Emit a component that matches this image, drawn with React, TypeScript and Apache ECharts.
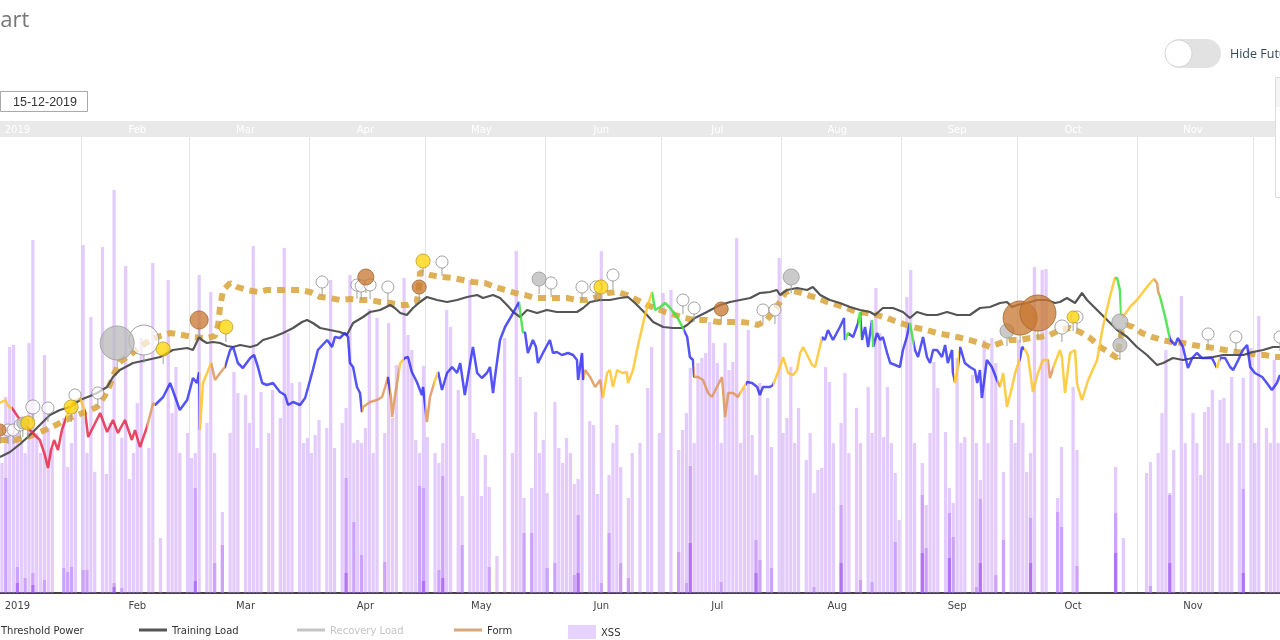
import React, { useEffect, useRef } from 'react';
import * as echarts from 'echarts';

// day-of-year index (Jan 1 = 0) of first and last visible day
const FIRST_DAY = 10;
const LAST_DAY = 340;
const monthNames = ['2019', 'Feb', 'Mar', 'Apr', 'May', 'Jun', 'Jul', 'Aug', 'Sep', 'Oct', 'Nov', 'Dec'];

// XSS total per day, days 10..340
const xssTotal = [
  130, 196, 246, 248, 160, 150, 140, 250, 353, 160,
  140, 238, 165, 145, 0, 0, 175, 126, 150, 185,
  0, 348, 140, 276, 121, 0, 346, 119, 170, 403,
  0, 155, 327, 114, 140, 190, 255, 0, 145, 330,
  0, 55, 0, 313, 180, 226, 140, 0, 160, 135,
  140, 318, 0, 170, 301, 140, 0, 81, 0, 160,
  221, 200, 0, 198, 170, 347, 145, 201, 0, 160,
  203, 0, 175, 345, 260, 210, 0, 211, 150, 155,
  140, 158, 173, 0, 165, 313, 145, 0, 170, 185,
  318, 150, 153, 150, 165, 284, 140, 275, 0, 160,
  270, 175, 228, 0, 315, 258, 243, 153, 140, 227,
  156, 0, 140, 130, 150, 283, 266, 0, 203, 97,
  0, 313, 160, 154, 97, 138, 106, 0, 37, 0,
  255, 0, 140, 342, 216, 95, 0, 105, 181, 140,
  153, 100, 0, 191, 145, 130, 155, 140, 109, 114,
  238, 0, 172, 168, 99, 342, 0, 118, 150, 168,
  126, 0, 95, 140, 0, 150, 0, 205, 246, 0,
  160, 300, 0, 303, 0, 143, 163, 180, 225, 150,
  230, 235, 240, 271, 250, 230, 150, 250, 223, 231,
  355, 150, 205, 263, 158, 118, 210, 0, 195, 146,
  0, 335, 160, 175, 226, 150, 185, 0, 133, 160,
  100, 123, 125, 226, 211, 150, 0, 170, 220, 140,
  0, 185, 150, 0, 206, 160, 305, 260, 156, 206,
  150, 120, 73, 0, 296, 323, 150, 0, 130, 88,
  160, 231, 205, 0, 161, 105, 90, 235, 150, 156,
  0, 218, 150, 113, 253, 150, 255, 230, 0, 121,
  0, 173, 150, 253, 170, 121, 140, 326, 0, 323,
  324, 0, 0, 95, 146, 0, 0, 206, 143, 0,
  0, 0, 0, 0, 0, 0, 0, 0, 126, 0,
  55, 0, 0, 0, 0, 0, 120, 131, 0, 140,
  180, 243, 100, 143, 0, 297, 150, 0, 180, 150,
  118, 181, 186, 203, 0, 193, 195, 150, 216, 0,
  150, 215, 0, 245, 150, 277, 0, 165, 150, 233,
  150,
];

// [day, XSS] high-intensity part
const xssHigh = [
  [11, 115], [14, 26], [16, 15], [18, 20], [21, 13], [26, 25], [27, 21], [28, 26], [31, 23], [32, 23],
  [39, 10], [41, 5], [60, 105], [65, 30], [67, 48], [99, 115], [101, 71], [103, 38], [109, 31], [118, 107],
  [119, 105], [123, 23], [124, 117], [129, 48], [136, 26], [145, 60], [147, 60], [151, 25], [153, 30], [158, 18],
  [159, 78], [165, 10], [167, 60], [170, 30], [172, 15], [185, 41], [187, 10], [188, 127], [196, 11], [205, 53],
  [206, 33], [209, 25], [220, 6], [227, 88], [232, 13], [235, 11], [241, 51], [248, 98], [249, 45], [255, 80],
  [256, 56], [262, 6], [263, 94], [267, 18], [269, 53], [276, 75], [283, 81], [284, 66], [288, 27], [298, 80],
  [307, 7], [312, 98], [331, 104],
];

// [day, XSS] peak part
const xssPeak = [
  [14, 10], [18, 8], [39, 6], [60, 12], [99, 20], [119, 12], [124, 15], [159, 20], [188, 50], [205, 20],
  [227, 30], [248, 40], [255, 35], [263, 30], [276, 30], [298, 40], [312, 30], [331, 20],
];

// [day, value]
const trainingLoad = [
  [9.5, 136], [12.1, 141], [14.7, 149], [16.7, 156], [18.0, 161], [19.8, 168], [22.4, 178], [25.0, 183], [27.6, 186], [30.2, 193],
  [32.8, 197], [34.6, 200], [37.2, 206], [38.7, 216], [40.5, 223], [43.9, 230], [47.5, 233], [50.9, 236], [54.2, 243], [57.9, 245],
  [59.4, 243], [61.0, 256], [61.7, 253], [63.0, 250], [64.6, 251], [66.4, 250], [68.2, 247], [69.8, 246], [71.6, 248], [74.2, 246],
  [76.0, 248], [77.5, 253], [80.1, 256], [82.7, 260], [85.3, 265], [87.6, 271], [88.9, 273], [90.4, 270], [92.3, 265], [94.8, 263],
  [97.4, 261], [99.2, 258], [100.8, 270], [103.4, 276], [105.2, 281], [107.8, 283], [110.4, 288], [111.6, 285], [113.0, 280], [114.7, 278],
  [116.3, 285], [118.1, 291], [119.9, 296], [122.5, 293], [125.1, 291], [127.7, 293], [130.3, 296], [132.9, 298], [134.4, 295], [137.0, 298],
  [138.8, 295], [140.6, 288], [142.2, 281], [144.0, 276], [145.8, 283], [148.4, 280], [150.9, 283], [153.5, 281], [156.1, 281], [158.7, 281],
  [160.3, 285], [162.1, 291], [164.7, 293], [167.2, 293], [169.8, 295], [171.9, 296], [173.7, 290], [175.0, 285], [176.8, 278], [178.4, 271],
  [181.0, 266], [183.5, 265], [185.9, 265], [187.2, 268], [189.2, 275], [192.3, 281], [195.7, 288], [198.3, 291], [200.9, 293], [203.5, 295],
  [206.0, 300], [208.6, 301], [210.4, 303], [211.2, 298], [213.0, 303], [215.6, 305], [218.2, 303], [219.7, 306], [221.6, 298], [224.1, 293],
  [226.7, 290], [229.3, 286], [231.9, 283], [234.5, 281], [235.8, 278], [237.8, 285], [240.4, 285], [243.0, 281], [244.8, 275], [246.6, 281],
  [249.2, 278], [251.8, 278], [254.4, 281], [257.0, 278], [260.3, 278], [262.9, 285], [265.5, 286], [268.1, 290], [269.9, 291], [271.2, 286],
  [272.5, 288], [275.1, 290], [277.7, 293], [280.3, 293], [282.3, 290], [283.6, 291], [285.4, 295], [287.5, 290], [289.3, 300], [290.6, 293],
  [293.2, 283], [295.8, 273], [298.4, 263], [301.0, 256], [303.5, 246], [306.1, 238], [308.7, 228], [310.3, 230], [312.8, 235], [315.4, 233],
  [318.0, 235], [320.6, 235], [323.2, 236], [325.8, 238], [328.4, 238], [331.0, 238], [333.5, 241], [336.1, 243], [338.7, 246], [340.5, 246],
];

const thresholdPower = [
  [9.5, 153], [13.4, 153], [17.3, 157], [22.4, 165], [27.6, 175], [31.5, 181], [34.6, 186], [36.7, 198], [37.9, 208], [39.2, 221],
  [40.5, 231], [43.1, 238], [45.7, 246], [48.3, 253], [50.9, 257], [53.5, 260], [56.6, 258], [59.4, 256], [63.0, 255], [65.1, 257],
  [65.9, 268], [66.4, 286], [67.2, 303], [69.0, 310], [70.8, 306], [73.4, 303], [76.2, 301], [78.5, 303], [81.9, 303], [84.5, 303],
  [87.1, 303], [89.7, 301], [92.3, 296], [94.8, 295], [97.4, 293], [100.0, 294], [102.6, 293], [105.2, 293], [107.8, 291], [110.4, 290],
  [113.0, 288], [115.0, 288], [117.3, 291], [117.9, 308], [118.1, 321], [120.7, 318], [123.8, 316], [126.6, 315], [129.2, 313], [131.8, 311],
  [134.9, 310], [137.5, 306], [140.1, 303], [142.7, 300], [145.3, 298], [147.8, 295], [151.0, 295], [153.5, 295], [156.1, 295], [158.7, 293],
  [161.3, 293], [163.9, 296], [166.5, 300], [169.1, 301], [171.6, 298], [174.2, 293], [176.8, 288], [178.9, 285], [181.5, 281], [184.1, 278],
  [186.6, 275], [189.2, 273], [192.3, 273], [195.2, 271], [197.8, 271], [200.9, 271], [203.5, 270], [205.5, 268], [207.8, 273], [209.4, 281],
  [211.2, 291], [212.5, 300], [213.8, 303], [215.9, 301], [218.2, 298], [220.8, 295], [223.4, 291], [226.0, 288], [228.5, 285], [231.1, 281],
  [233.7, 280], [236.3, 278], [238.9, 275], [241.5, 271], [244.0, 268], [246.6, 265], [249.2, 263], [251.8, 260], [254.4, 258], [257.0, 256],
  [260.3, 253], [262.9, 250], [265.5, 246], [268.1, 250], [270.7, 253], [273.3, 253], [275.9, 255], [278.4, 256], [281.0, 258], [283.6, 263],
  [286.2, 265], [288.8, 261], [291.4, 255], [294.0, 246], [296.5, 240], [298.4, 235], [299.6, 263], [301.0, 268], [302.5, 266], [304.8, 260],
  [307.4, 256], [310.0, 253], [312.6, 251], [315.4, 250], [318.0, 248], [321.1, 246], [323.7, 245], [326.3, 243], [329.4, 241], [332.0, 240],
  [334.6, 238], [336.6, 238], [339.2, 236], [340.5, 236],
];

const form = [
  [9.5, 190], [10.8, 193], [11.8, 186], [12.6, 185], [14.7, 173], [16.7, 165], [18.5, 158], [19.8, 153], [21.1, 138], [21.9, 125],
  [22.7, 143], [23.5, 153], [24.5, 143], [25.5, 163], [26.6, 175], [27.6, 185], [28.9, 193], [30.2, 195], [31.5, 181], [32.3, 156],
  [35.4, 180], [37.2, 161], [38.7, 173], [40.0, 160], [41.8, 173], [43.6, 153], [44.4, 163], [45.7, 146], [47.5, 166], [49.1, 190],
  [49.6, 188], [51.7, 196], [53.5, 210], [54.8, 196], [56.0, 183], [57.9, 193], [59.4, 215], [60.4, 210], [61.0, 221], [61.2, 163],
  [62.0, 210], [64.1, 230], [65.1, 213], [66.4, 220], [67.7, 226], [69.0, 243], [69.8, 246], [71.0, 230], [72.3, 225], [74.2, 235],
  [75.2, 238], [76.2, 226], [77.3, 210], [78.5, 208], [80.1, 210], [81.9, 201], [83.2, 198], [84.0, 188], [85.3, 191], [87.1, 188],
  [88.4, 195], [89.2, 206], [90.4, 223], [91.7, 243], [94.1, 253], [95.4, 246], [96.1, 256], [97.4, 255], [98.7, 260], [99.5, 256],
  [100.0, 230], [100.8, 226], [101.8, 206], [102.6, 200], [103.1, 181], [103.4, 186], [105.2, 191], [107.0, 193], [108.3, 196], [109.1, 206],
  [109.8, 216], [110.6, 196], [110.9, 176], [111.6, 196], [113.0, 230], [114.2, 235], [115.0, 236], [116.0, 221], [117.3, 211], [118.1, 203],
  [118.6, 198], [118.9, 206], [119.9, 171], [120.7, 196], [122.0, 213], [122.8, 221], [123.8, 203], [125.1, 220], [126.4, 226], [127.7, 220],
  [128.5, 230], [129.7, 198], [131.0, 228], [131.8, 246], [132.9, 220], [134.1, 215], [135.4, 220], [136.2, 226], [137.0, 200], [137.5, 216],
  [138.8, 253], [140.1, 266], [141.9, 278], [143.7, 291], [144.7, 261], [145.3, 260], [146.0, 240], [147.3, 253], [148.1, 246], [148.6, 230],
  [149.9, 240], [151.7, 253], [152.5, 240], [153.5, 241], [154.8, 238], [156.4, 240], [157.7, 238], [158.7, 233], [159.0, 213], [160.0, 240],
  [160.3, 213], [160.8, 223], [162.1, 216], [163.4, 206], [164.7, 213], [165.4, 195], [166.5, 220], [167.2, 223], [168.0, 206], [169.1, 223],
  [170.4, 220], [171.6, 221], [171.9, 210], [173.2, 223], [174.5, 248], [176.3, 278], [178.1, 301], [178.9, 283], [180.2, 286], [181.5, 290],
  [182.8, 285], [184.6, 276], [186.1, 265], [187.2, 256], [187.9, 236], [188.7, 233], [189.0, 216], [190.0, 216], [191.3, 213], [192.6, 200],
  [193.6, 196], [194.9, 206], [196.2, 216], [197.0, 176], [197.8, 200], [199.1, 200], [200.3, 196], [201.4, 203], [202.7, 211], [204.0, 210],
  [205.3, 206], [206.0, 198], [206.8, 206], [208.6, 206], [209.4, 208], [211.2, 226], [212.0, 236], [213.3, 220], [214.6, 218], [215.6, 223],
  [216.4, 240], [217.2, 246], [218.5, 236], [219.5, 228], [220.3, 226], [222.1, 256], [222.8, 253], [223.6, 263], [224.9, 253], [226.7, 266],
  [227.8, 275], [228.0, 253], [228.8, 260], [230.1, 256], [231.4, 270], [231.9, 281], [232.4, 253], [233.2, 266], [234.0, 246], [235.0, 273],
  [235.3, 246], [236.3, 260], [237.1, 253], [237.8, 256], [238.9, 240], [239.7, 230], [241.0, 228], [242.2, 226], [243.0, 243], [244.0, 256],
  [244.8, 270], [245.6, 253], [246.1, 243], [246.9, 236], [248.2, 256], [249.2, 236], [250.0, 230], [250.8, 243], [251.8, 243], [253.1, 236],
  [253.9, 248], [254.6, 230], [255.7, 243], [255.9, 221], [256.5, 210], [257.2, 226], [257.8, 246], [259.0, 230], [260.3, 226], [261.6, 223],
  [262.2, 210], [262.9, 223], [263.4, 195], [264.7, 233], [266.0, 226], [267.3, 213], [268.1, 206], [268.9, 220], [269.9, 186], [271.2, 206],
  [272.0, 220], [273.3, 235], [273.8, 246], [274.6, 243], [275.3, 238], [276.6, 201], [277.9, 220], [279.2, 233], [280.5, 233], [281.0, 215],
  [282.3, 230], [283.6, 243], [284.1, 236], [284.9, 200], [286.2, 240], [287.5, 243], [288.0, 210], [288.3, 205], [289.3, 193], [290.9, 213],
  [293.2, 233], [294.7, 266], [296.5, 296], [297.8, 315], [298.4, 315], [299.1, 303], [299.4, 280], [299.9, 276], [301.7, 286], [303.5, 293],
  [305.1, 301], [306.9, 310], [307.9, 314], [308.7, 310], [309.0, 301], [309.5, 296], [310.8, 276], [312.1, 253], [313.4, 248], [314.1, 255],
  [315.4, 246], [316.7, 225], [317.8, 235], [319.0, 240], [320.3, 235], [321.6, 235], [322.9, 235], [324.2, 225], [325.0, 235], [326.3, 235],
  [327.6, 226], [328.4, 223], [329.7, 233], [330.9, 243], [332.0, 248], [332.8, 226], [334.0, 220], [335.9, 216], [337.1, 210], [338.4, 203],
  [339.7, 210], [340.5, 218],
];

// [fromDay, toDay, state]
const formSegments = [
  [9.5, 12.6, 'fresh'], [12.6, 26.6, 'veryTired'], [26.6, 31.5, 'fresh'], [31.5, 47.5, 'veryTired'], [47.5, 49.6, 'tired'],
  [49.6, 61.0, 'optimal'], [61.0, 64.1, 'fresh'], [64.1, 67.7, 'tired'], [67.7, 103.1, 'optimal'], [103.1, 109.6, 'tired'],
  [109.6, 110.4, 'optimal'], [110.4, 112.8, 'tired'], [112.8, 114.0, 'fresh'], [114.0, 119.5, 'optimal'], [119.5, 121.8, 'tired'],
  [121.8, 122.8, 'fresh'], [122.8, 143.7, 'optimal'], [143.7, 145.0, 'peak'], [145.0, 160.5, 'optimal'], [160.5, 165.2, 'tired'],
  [165.2, 178.1, 'fresh'], [178.1, 186.4, 'peak'], [186.4, 189.0, 'optimal'], [189.0, 200.9, 'tired'], [200.9, 202.4, 'fresh'],
  [202.4, 209.4, 'optimal'], [209.4, 222.0, 'fresh'], [222.0, 227.9, 'optimal'], [227.9, 229.0, 'peak'], [229.0, 231.4, 'optimal'],
  [231.4, 232.2, 'peak'], [232.2, 234.8, 'optimal'], [234.8, 235.5, 'peak'], [235.5, 244.6, 'optimal'], [244.6, 245.8, 'peak'],
  [245.8, 256.3, 'optimal'], [256.3, 257.6, 'fresh'], [257.6, 267.3, 'optimal'], [267.3, 268.1, 'tired'], [268.1, 273.3, 'fresh'],
  [273.3, 274.3, 'optimal'], [274.3, 280.5, 'fresh'], [280.5, 281.8, 'tired'], [281.8, 297.8, 'fresh'], [297.8, 299.4, 'peak'],
  [299.4, 307.9, 'fresh'], [307.9, 309.3, 'tired'], [309.3, 312.1, 'peak'], [312.1, 324.0, 'optimal'], [324.0, 325.0, 'fresh'],
  [325.0, 340.6, 'optimal'],
];
const formColors = {
  fresh: 'rgba(255,196,40,0.85)',
  tired: 'rgba(222,150,90,0.85)',
  veryTired: 'rgba(232,40,70,0.85)',
  optimal: 'rgba(40,40,245,0.8)',
  peak: 'rgba(60,225,60,0.85)',
};

// [day, value, size, kind]
const activities = [
  [9.5, 163, 12, 'brown'], [11.6, 163, 12, 'white'], [12.9, 163, 12, 'white'], [14.7, 168, 12, 'white'], [15.4, 170, 12, 'gray'],
  [16.7, 170, 14, 'yellow'], [18.0, 186, 14, 'white'], [21.9, 185, 12, 'white'], [27.9, 186, 14, 'yellow'], [28.9, 198, 12, 'white'],
  [34.8, 200, 12, 'white'], [39.8, 250, 34, 'gray'], [46.7, 253, 30, 'white'], [51.7, 244, 14, 'yellow'], [61.0, 273, 18, 'brown'],
  [67.9, 266, 14, 'yellow'], [92.8, 311, 12, 'white'], [101.8, 308, 12, 'white'], [102.9, 307, 12, 'white'], [104.1, 316, 16, 'brown'],
  [105.2, 308, 12, 'white'], [109.8, 306, 12, 'white'], [117.9, 306, 14, 'brown'], [118.9, 332, 14, 'yellow'], [123.8, 331, 12, 'white'],
  [148.9, 314, 14, 'gray'], [152.0, 310, 12, 'white'], [160.0, 306, 12, 'white'], [163.6, 306, 12, 'white'], [164.9, 306, 14, 'yellow'],
  [168.0, 318, 12, 'white'], [186.1, 293, 12, 'white'], [189.0, 285, 12, 'white'], [196.0, 284, 14, 'brown'], [206.8, 283, 12, 'white'],
  [209.9, 283, 12, 'white'], [214.1, 316, 16, 'gray'], [269.9, 262, 14, 'gray'], [273.3, 275, 34, 'brown'], [277.9, 280, 36, 'brown'],
  [284.1, 266, 14, 'white'], [287.0, 276, 12, 'yellow'], [288.0, 276, 12, 'white'], [299.1, 271, 16, 'gray'], [299.1, 248, 14, 'gray'],
  [321.9, 259, 12, 'white'], [329.1, 256, 12, 'white'], [340.5, 256, 12, 'white'],
];
const activityStyles = {
  white: { color: 'rgba(255,255,255,0.85)', borderColor: '#8a8a8a' },
  gray: { color: 'rgba(185,185,185,0.95)', borderColor: '#999' },
  yellow: { color: 'rgba(255,212,0,0.95)', borderColor: '#b59a2a' },
  brown: { color: 'rgba(200,120,50,0.95)', borderColor: '#a0652c' },
};

const categories: string[] = [];
const catDates: Date[] = [];
for (let d = FIRST_DAY; d <= LAST_DAY; d++) {
  const dt = new Date(Date.UTC(2019, 0, 1 + d));
  catDates.push(dt);
  categories.push(dt.toISOString().slice(0, 10));
}
const isMid = (i: number) => catDates[i] && catDates[i].getUTCDate() === 15;
const isFirst = (i: number) => catDates[i] && catDates[i].getUTCDate() === 1;
const monthLabel = (v: string) => monthNames[Number(v.slice(5, 7)) - 1];

const legendBase = {
  orient: 'horizontal',
  top: 625,
  padding: 0,
  itemWidth: 28,
  itemHeight: 14,
  itemGap: 0,
  inactiveColor: '#c4c4c4',
  inactiveBorderColor: '#c4c4c4',
  textStyle: { fontSize: 10, color: '#333', fontFamily: 'DejaVu Sans' },
};
const lineIcon = 'path://M0,0h28v3h-28z';

export default function App() {
  const ref = useRef<HTMLDivElement>(null);
  useEffect(() => {
    document.body.style.margin = '0';
    const chart = echarts.init(ref.current!, undefined, { renderer: 'svg' });
    const formIndex = 5;
    const series: any[] = [
      {
        type: 'bar', name: 'XSS', xAxisIndex: 0, yAxisIndex: 0, data: xssTotal,
        barWidth: '84%', barGap: '-100%', itemStyle: { color: 'rgba(190,130,250,0.42)' }, z: 1, silent: true,
      },
      {
        type: 'bar', name: 'XSS', xAxisIndex: 0, yAxisIndex: 0,
        data: xssHigh.map(([d, v]) => [d - FIRST_DAY, v]),
        barWidth: '84%', barGap: '-100%', itemStyle: { color: 'rgba(170,100,245,0.4)' }, z: 1, silent: true,
      },
      {
        type: 'bar', name: 'XSS', xAxisIndex: 0, yAxisIndex: 0,
        data: xssPeak.map(([d, v]) => [d - FIRST_DAY, v]),
        barWidth: '84%', barGap: '-100%', itemStyle: { color: 'rgba(150,70,240,0.5)' }, z: 1, silent: true,
      },
      {
        type: 'line', name: 'Threshold Power', xAxisIndex: 2, yAxisIndex: 0, data: thresholdPower,
        showSymbol: false, lineStyle: { color: '#dba640', width: 6, type: [8, 6], opacity: 0.88 }, z: 2,
      },
      {
        type: 'line', name: 'Training Load', xAxisIndex: 2, yAxisIndex: 0, data: trainingLoad,
        showSymbol: false, lineStyle: { color: '#555', width: 2.2 }, itemStyle: { color: '#555' }, z: 3,
      },
      {
        type: 'line', name: 'Form', xAxisIndex: 2, yAxisIndex: 0, data: form,
        showSymbol: false, lineStyle: { width: 2.5 }, z: 3,
      },
      {
        type: 'line', name: 'Recovery Load', xAxisIndex: 2, yAxisIndex: 0, data: [],
        showSymbol: false, lineStyle: { color: '#ccc', width: 2 }, itemStyle: { color: '#ccc' },
      },
      {
        type: 'scatter', name: 'Activity stems', xAxisIndex: 2, yAxisIndex: 0, symbol: 'rect', z: 4, silent: true,
        itemStyle: { color: '#9a9a9a' },
        data: activities.map((a) => ({ value: [a[0], a[1]], symbolSize: [1.2, 8], symbolOffset: [0, (a[2] as number) / 2 + 4] })),
      },
    ];
    Object.keys(activityStyles).forEach((kind) => {
      const st = (activityStyles as any)[kind];
      series.push({
        type: 'scatter', name: 'Activity ' + kind, xAxisIndex: 2, yAxisIndex: 0, z: 5,
        data: activities.filter((a) => a[3] === kind).map((a) => [a[0], a[1], a[2]]),
        symbolSize: (v: number[]) => v[2],
        itemStyle: { color: st.color, borderColor: st.borderColor, borderWidth: 1 },
      });
    });

    const option: any = {
      animation: false,
      grid: { left: 0, right: 0, top: 137, bottom: 47, containLabel: false },
      xAxis: [
        {
          type: 'category', data: categories, position: 'bottom', boundaryGap: true,
          axisLine: { show: true, lineStyle: { color: '#444', width: 2 } },
          axisTick: { show: false },
          axisLabel: { interval: (i: number) => isMid(i), formatter: monthLabel, color: '#444', fontSize: 10, fontFamily: 'DejaVu Sans', margin: 7 },
          splitLine: { show: true, interval: (i: number) => isFirst(i), lineStyle: { color: '#e4e4e4', width: 1 } },
        },
        {
          type: 'category', data: categories, position: 'top', offset: 8, boundaryGap: true,
          axisLine: { show: true, lineStyle: { color: '#e9e9e9', width: 16 } },
          axisTick: { show: false },
          axisLabel: { interval: (i: number) => isMid(i), formatter: monthLabel, color: '#fff', fontSize: 10, fontFamily: 'DejaVu Sans', margin: 0, verticalAlign: 'middle' },
          splitLine: { show: false },
        },
        { type: 'value', min: FIRST_DAY - 0.5, max: LAST_DAY + 0.5, show: false },
      ],
      yAxis: [{ type: 'value', min: 0, max: 456, show: false }],
      visualMap: [{
        type: 'piecewise', show: false, dimension: 0, seriesIndex: formIndex,
        pieces: formSegments.map((s) => ({ gte: s[0], lt: s[1], color: (formColors as any)[s[2]] })),
        outOfRange: { color: formColors.optimal },
      }],
      legend: [
        { ...legendBase, left: -32, data: [{ name: 'Threshold Power', icon: 'path://M0,0h28v5h-28z', itemStyle: { color: '#dba640' } }] },
        { ...legendBase, left: 139, data: [{ name: 'Training Load', icon: lineIcon, itemStyle: { color: '#555' } }] },
        { ...legendBase, left: 297, selected: { 'Recovery Load': false }, data: [{ name: 'Recovery Load', icon: lineIcon, itemStyle: { color: '#ccc' } }] },
        { ...legendBase, left: 454, data: [{ name: 'Form', icon: lineIcon, itemStyle: { color: '#d9a77b' } }] },
        { ...legendBase, left: 568, data: [{ name: 'XSS', icon: 'rect', itemStyle: { color: '#e6d2fc' } }] },
      ],
      graphic: [
        { type: 'text', x: -27, y: 18, z: 10, style: { text: 'Chart', fontSize: 22, fontFamily: 'Open Sans', fill: '#777', verticalAlign: 'middle' } },
        { type: 'rect', z: 10, shape: { x: 0.5, y: 91.5, width: 87, height: 20 }, style: { fill: '#fff', stroke: '#a9a9a9', lineWidth: 1 } },
        { type: 'text', x: 13, y: 101.5, z: 11, style: { text: '15-12-2019', fontSize: 12.5, fontFamily: 'Liberation Sans', fill: '#333', verticalAlign: 'middle' } },
        { type: 'rect', z: 10, shape: { x: 1165, y: 39, width: 56, height: 29, r: 14.5 }, style: { fill: '#e2e2e2' } },
        { type: 'circle', z: 11, shape: { cx: 1178.5, cy: 53.5, r: 13.5 }, style: { fill: '#fff', stroke: '#d4d4d4', lineWidth: 1 } },
        { type: 'text', x: 1230, y: 53, z: 10, style: { text: 'Hide Future', fontSize: 12.5, fontFamily: 'Open Sans', fill: '#34485c', verticalAlign: 'middle' } },
        { type: 'rect', z: 20, shape: { x: 1275.5, y: 77.5, width: 20, height: 120 }, style: { fill: '#fff', stroke: '#dcdcdc', lineWidth: 1 } },
        { type: 'rect', z: 21, shape: { x: 1276, y: 78, width: 20, height: 29 }, style: { fill: '#f5f5f5' } },
      ],
      series,
    };
    chart.setOption(option);
    return () => chart.dispose();
  }, []);
  return <div ref={ref} style={{ position: 'fixed', left: 0, top: 0, width: 1280, height: 640 }} />;
}
